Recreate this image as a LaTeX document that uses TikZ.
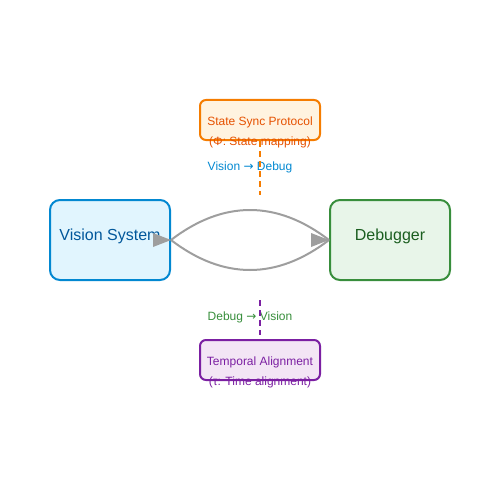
\documentclass[tikz,border=0pt]{standalone}
\usepackage{fontspec}
\setmainfont{Liberation Sans}
\newfontfamily\arrfont{DejaVu Sans}
\newcommand{\rarr}{{\arrfont →}}
\definecolor{visfill}{HTML}{E1F5FE}
\definecolor{visdraw}{HTML}{0288D1}
\definecolor{vistext}{HTML}{01579B}
\definecolor{dbgfill}{HTML}{E8F5E9}
\definecolor{dbgdraw}{HTML}{388E3C}
\definecolor{dbgtext}{HTML}{1B5E20}
\definecolor{synfill}{HTML}{FFF3E0}
\definecolor{syndraw}{HTML}{F57C00}
\definecolor{syntext}{HTML}{E65100}
\definecolor{temfill}{HTML}{F3E5F5}
\definecolor{temdraw}{HTML}{7B1FA2}
\definecolor{linkgray}{HTML}{9E9E9E}
\tikzset{
  bigbox/.style={draw, line width=2pt, rounded corners=10pt, minimum width=120pt, minimum height=80pt, inner sep=0pt},
  smallbox/.style={draw, line width=2pt, rounded corners=6pt, minimum width=120pt, minimum height=40pt, inner sep=0pt},
  bigtxt/.style={font=\fontsize{16}{19}\selectfont, inner sep=0pt},
  smalltxt/.style={font=\fontsize{12}{14}\selectfont, inner sep=0pt},
  link/.style={draw=linkgray, line width=2pt},
  head/.style={fill=linkgray},
  dashlink/.style={line width=2pt, dash pattern=on 6pt off 4pt}
}
\begin{document}
\begin{tikzpicture}[x=1pt,y=-1pt]
\useasboundingbox (0,0) rectangle (500,500);
% boxes
\node[bigbox, fill=visfill, draw=visdraw] (vis) at (110,240) {};
\node[bigbox, fill=dbgfill, draw=dbgdraw] (dbg) at (390,240) {};
\node[smallbox, fill=synfill, draw=syndraw] (syn) at (260,120) {};
\node[smallbox, fill=temfill, draw=temdraw] (tem) at (260,360) {};
% texts
\node[bigtxt, text=vistext] (vist) at (110,236) {Vision System};
\node[bigtxt, text=dbgtext] (dbgt) at (390,236) {Debugger};
\node[smalltxt, text=syntext] (synt1) at (260,122) {State Sync Protocol};
\node[smalltxt, text=syntext] (synt2) at (260,142) {(Φ: State mapping)};
\node[smalltxt, text=temdraw] (temt1) at (260,362) {Temporal Alignment};
\node[smalltxt, text=temdraw] (temt2) at (260,382) {(τ: Time alignment)};
\node[smalltxt, text=visdraw] (lab1) at (250,167) {Vision \rarr{} Debug};
\node[smalltxt, text=dbgdraw] (lab2) at (250,317) {Debug \rarr{} Vision};
% curved links
\draw[link] (vis.east) .. controls (223.3,200) and (276.7,200) .. (dbg.west);
\draw[link] (dbg.west) .. controls (276.7,280) and (223.3,280) .. (vis.east);
\fill[head] (dbg.west) -- ++(-18,-7) -- ++(0,14) -- cycle;
\fill[head] (vis.east) -- ++(-18,-7) -- ++(0,14) -- cycle;
% dashed links
\coordinate (c1) at (260,195);
\coordinate (c2) at (260,300);
\coordinate (c3) at (260,335);
\draw[dashlink, draw=syndraw] (syn.south) -- (c1);
\draw[dashlink, draw=temdraw] (c2) -- (c3);
\end{tikzpicture}
\end{document}
